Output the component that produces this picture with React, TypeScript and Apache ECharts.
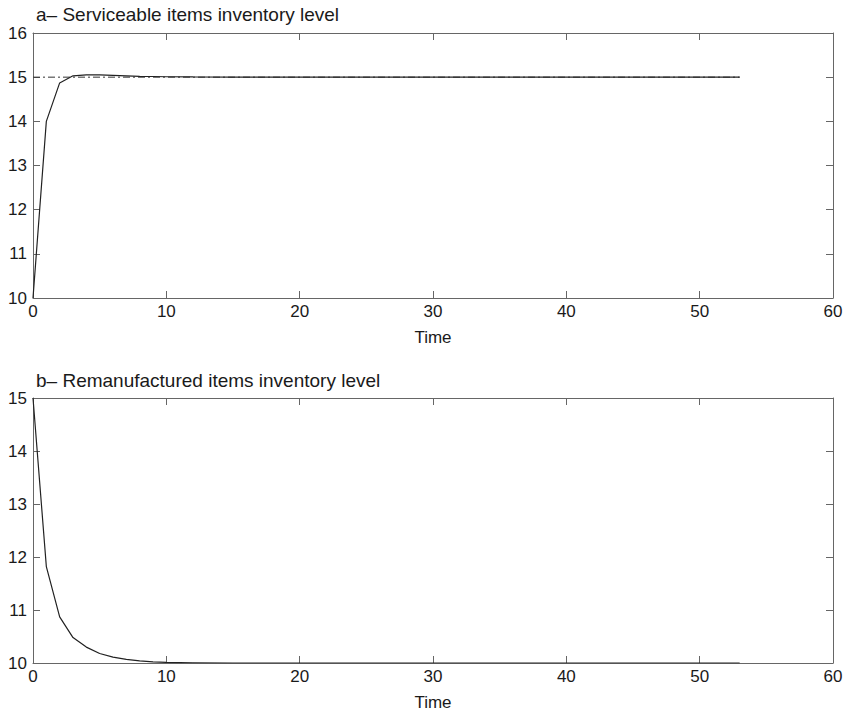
import React, { useEffect, useRef } from "react";
import * as echarts from "echarts";

const timeA = [0, 1, 2, 3, 4, 5, 6, 7, 8, 9, 10, 12, 15, 20, 30, 40, 53];
const serviceable = [10, 14.0, 14.87, 15.03, 15.05, 15.05, 15.04, 15.03, 15.02, 15.015, 15.01, 15.005, 15.0, 15.0, 15.0, 15.0, 15.0];
const refTime = [0, 53];
const refLevel = [15, 15];

const timeB = [0, 1, 2, 3, 4, 5, 6, 7, 8, 9, 10, 12, 15, 20, 30, 40, 53];
const remanufactured = [15, 11.82, 10.87, 10.48, 10.3, 10.18, 10.11, 10.07, 10.04, 10.02, 10.01, 10.005, 10.0, 10.0, 10.0, 10.0, 10.0];

const xTicks = [0, 10, 20, 30, 40, 50, 60];
const titleA = "a\u2013 Serviceable items inventory level";
const titleB = "b\u2013 Remanufactured items inventory level";

export default function App() {
  const ref = useRef<HTMLDivElement>(null);
  useEffect(() => {
    if (!ref.current) return;
    const chart = echarts.init(ref.current, null, { renderer: "svg" });
    const font = "Liberation Sans";
    const axisCol = "#666";
    const lbl = { color: "#1a1a1a", fontSize: 17, fontFamily: font };
    const mkX = (gi: number, pos: "bottom" | "top", show: boolean) => ({
      type: "value",
      gridIndex: gi,
      position: pos,
      min: xTicks[0],
      max: xTicks[xTicks.length - 1],
      interval: 10,
      name: show ? "Time" : "",
      nameLocation: "middle",
      nameGap: 31,
      nameTextStyle: { color: "#1a1a1a", fontSize: 17, fontFamily: font },
      axisLine: { show: true, onZero: false, lineStyle: { color: axisCol, width: 1 } },
      axisTick: { show: true, inside: true, length: 7, lineStyle: { color: axisCol } },
      axisLabel: { show: show, margin: 5, ...lbl },
      splitLine: { show: false },
    });
    const mkY = (gi: number, pos: "left" | "right", show: boolean, min: number, max: number) => ({
      type: "value",
      gridIndex: gi,
      position: pos,
      min,
      max,
      interval: 1,
      axisLine: { show: true, onZero: false, lineStyle: { color: axisCol, width: 1 } },
      axisTick: { show: true, inside: true, length: 7, lineStyle: { color: axisCol } },
      axisLabel: { show: show, margin: 6, ...lbl },
      splitLine: { show: false },
    });
    chart.setOption({
      animation: false,
      backgroundColor: "#fff",
      title: [
        { text: titleA, left: 31, top: 0, textStyle: { fontSize: 19, fontWeight: "normal", color: "#1a1a1a", fontFamily: font } },
        { text: titleB, left: 31, top: 366, textStyle: { fontSize: 19, fontWeight: "normal", color: "#1a1a1a", fontFamily: font } },
      ],
      grid: [
        { left: 33, right: 13, top: 33, height: 265 },
        { left: 33, right: 13, top: 398, height: 265 },
      ],
      xAxis: [mkX(0, "bottom", true), mkX(0, "top", false), mkX(1, "bottom", true), mkX(1, "top", false)],
      yAxis: [mkY(0, "left", true, 10, 16), mkY(0, "right", false, 10, 16), mkY(1, "left", true, 10, 15), mkY(1, "right", false, 10, 15)],
      series: [
        {
          type: "line",
          xAxisIndex: 0,
          yAxisIndex: 0,
          data: refTime.map((t, i) => [t, refLevel[i]]),
          symbol: "none",
          lineStyle: { color: "#333", width: 1, type: [7, 3, 2, 3] },
        },
        {
          type: "line",
          xAxisIndex: 0,
          yAxisIndex: 0,
          data: timeA.map((t, i) => [t, serviceable[i]]),
          symbol: "none",
          lineStyle: { color: "#222", width: 1.2 },
        },
        {
          type: "line",
          xAxisIndex: 2,
          yAxisIndex: 2,
          data: timeB.map((t, i) => [t, remanufactured[i]]),
          symbol: "none",
          lineStyle: { color: "#222", width: 1.2 },
        },
      ],
    });
    return () => chart.dispose();
  }, []);
  return <div ref={ref} style={{ position: "absolute", left: 0, top: 0, width: 846, height: 712 }} />;
}
